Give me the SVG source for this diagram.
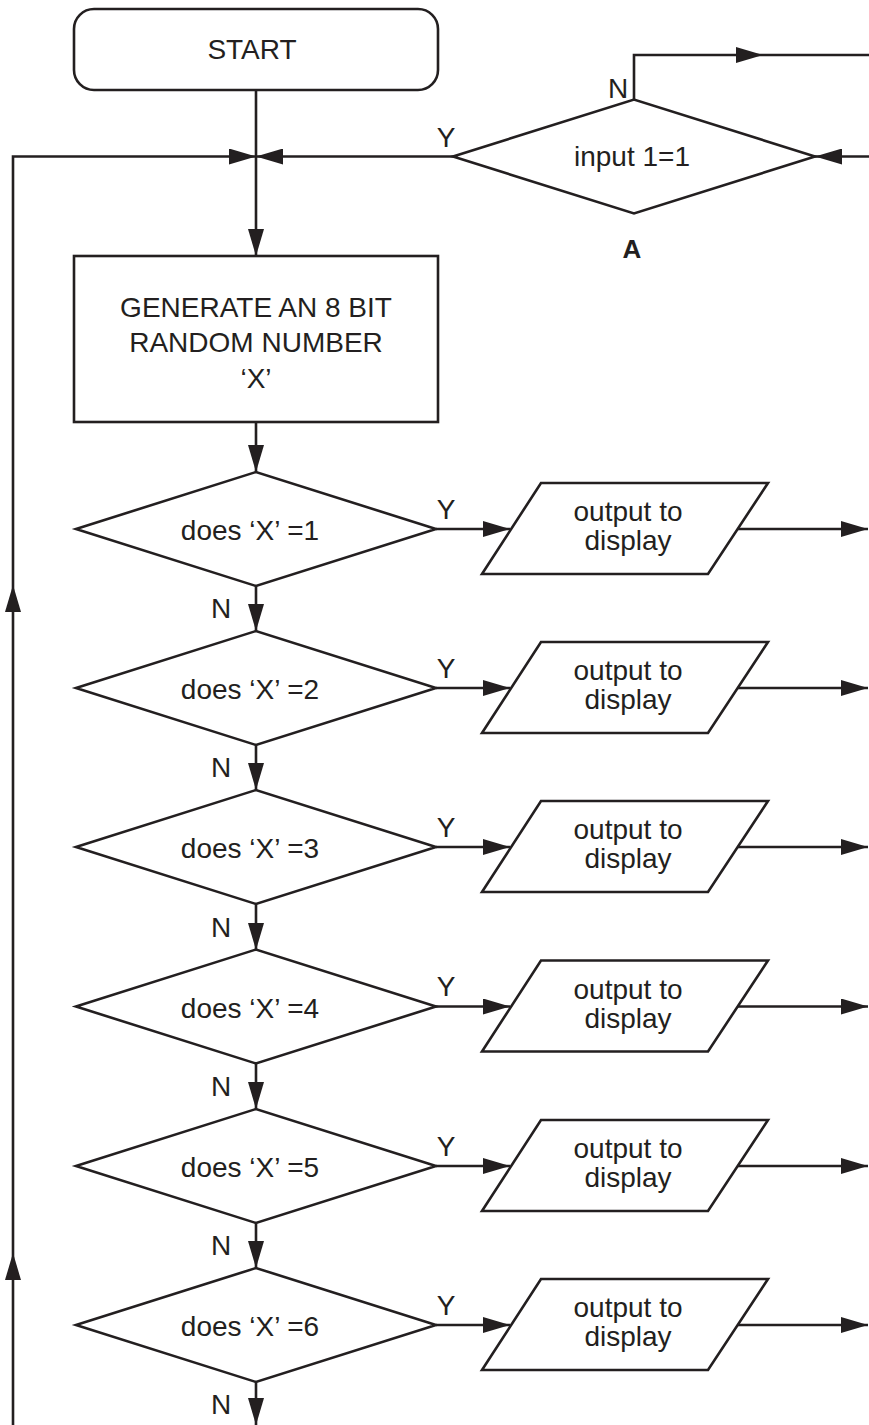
<svg xmlns="http://www.w3.org/2000/svg" width="869" height="1425" viewBox="0 0 869 1425">
<style>
.s{fill:#fff;stroke:#231f20;stroke-width:2.6}
.c{fill:none;stroke:#231f20;stroke-width:2.6}
text{font-family:"Liberation Sans",Arial,sans-serif;font-size:28px;fill:#231f20}
.m{text-anchor:middle}
.b{font-weight:bold;font-size:26px}
</style>
<defs>
<marker id="ah" viewBox="0 0 27 16" refX="27" refY="8" markerWidth="27" markerHeight="16" markerUnits="userSpaceOnUse" orient="auto">
<path d="M0,0 L27,8 L0,16 z" fill="#231f20"/>
</marker>
</defs>
<rect width="869" height="1425" fill="#fff"/>
<g id="connectors">
<path class="c" d="M256,90 V256" marker-end="url(#ah)"/>
<path class="c" d="M256,422 V472" marker-end="url(#ah)"/>
<path class="c" d="M453,156.5 H256" marker-end="url(#ah)"/>
<path class="c" d="M13,585 V156.5 H256" marker-end="url(#ah)"/>
<path class="c" d="M13,1253 V585" marker-end="url(#ah)"/>
<path class="c" d="M13,1425 V1253" marker-end="url(#ah)"/>
<path class="c" d="M634,99.5 V55 H763" marker-end="url(#ah)"/>
<path class="c" d="M763,55 H869"/>
<path class="c" d="M869,156.5 H815" marker-end="url(#ah)"/>
<path class="c" d="M256,586 V631" marker-end="url(#ah)"/>
<path class="c" d="M256,745 V790" marker-end="url(#ah)"/>
<path class="c" d="M256,904 V950" marker-end="url(#ah)"/>
<path class="c" d="M256,1063.5 V1109" marker-end="url(#ah)"/>
<path class="c" d="M256,1223 V1268" marker-end="url(#ah)"/>
<path class="c" d="M256,1382 V1425" marker-end="url(#ah)"/>
<path class="c" d="M436,529 H510" marker-end="url(#ah)"/>
<path class="c" d="M738,529 H868" marker-end="url(#ah)"/>
<path class="c" d="M436,688 H510" marker-end="url(#ah)"/>
<path class="c" d="M738,688 H868" marker-end="url(#ah)"/>
<path class="c" d="M436,847 H510" marker-end="url(#ah)"/>
<path class="c" d="M738,847 H868" marker-end="url(#ah)"/>
<path class="c" d="M436,1006.5 H510" marker-end="url(#ah)"/>
<path class="c" d="M738,1006.5 H868" marker-end="url(#ah)"/>
<path class="c" d="M436,1166 H510" marker-end="url(#ah)"/>
<path class="c" d="M738,1166 H868" marker-end="url(#ah)"/>
<path class="c" d="M436,1325 H510" marker-end="url(#ah)"/>
<path class="c" d="M738,1325 H868" marker-end="url(#ah)"/>
<text x="446" y="147" class="m">Y</text>
<text x="618" y="98" class="m">N</text>
<text x="446" y="519" class="m">Y</text>
<text x="221" y="618" class="m">N</text>
<text x="446" y="678" class="m">Y</text>
<text x="221" y="777" class="m">N</text>
<text x="446" y="837" class="m">Y</text>
<text x="221" y="937" class="m">N</text>
<text x="446" y="996" class="m">Y</text>
<text x="221" y="1096" class="m">N</text>
<text x="446" y="1156" class="m">Y</text>
<text x="221" y="1255" class="m">N</text>
<text x="446" y="1315" class="m">Y</text>
<text x="221" y="1414" class="m">N</text>
</g>
<g id="start">
<rect class="s" x="74" y="9" width="364" height="81" rx="20"/>
<text x="252" y="59" class="m">START</text>
</g>
<g id="decisionA">
<polygon class="s" points="453,156.5 634,99.5 815,156.5 634,213.5"/>
<text x="632" y="166" class="m">input 1=1</text>
<text x="632" y="258" class="m b">A</text>
</g>
<g id="generate">
<rect class="s" x="74" y="256" width="364" height="166"/>
<text x="256" y="317" class="m">GENERATE AN 8 BIT</text>
<text x="256" y="352" class="m">RANDOM NUMBER</text>
<text x="256" y="388" class="m">‘X’</text>
</g>
<g id="d1">
<polygon class="s" points="76,529 256,472 436,529 256,586"/>
<text x="250" y="540" class="m">does ‘X’ =1</text>
</g>
<g id="o1">
<polygon class="s" points="541,483 768,483 708,574 482,574"/>
<text x="628" y="521" class="m">output to</text>
<text x="628" y="550" class="m">display</text>
</g>
<g id="d2">
<polygon class="s" points="76,688 256,631 436,688 256,745"/>
<text x="250" y="699" class="m">does ‘X’ =2</text>
</g>
<g id="o2">
<polygon class="s" points="541,642 768,642 708,733 482,733"/>
<text x="628" y="680" class="m">output to</text>
<text x="628" y="709" class="m">display</text>
</g>
<g id="d3">
<polygon class="s" points="76,847 256,790 436,847 256,904"/>
<text x="250" y="858" class="m">does ‘X’ =3</text>
</g>
<g id="o3">
<polygon class="s" points="541,801 768,801 708,892 482,892"/>
<text x="628" y="839" class="m">output to</text>
<text x="628" y="868" class="m">display</text>
</g>
<g id="d4">
<polygon class="s" points="76,1006.5 256,949.5 436,1006.5 256,1063.5"/>
<text x="250" y="1017.5" class="m">does ‘X’ =4</text>
</g>
<g id="o4">
<polygon class="s" points="541,960.5 768,960.5 708,1051.5 482,1051.5"/>
<text x="628" y="998.5" class="m">output to</text>
<text x="628" y="1027.5" class="m">display</text>
</g>
<g id="d5">
<polygon class="s" points="76,1166 256,1109 436,1166 256,1223"/>
<text x="250" y="1177" class="m">does ‘X’ =5</text>
</g>
<g id="o5">
<polygon class="s" points="541,1120 768,1120 708,1211 482,1211"/>
<text x="628" y="1158" class="m">output to</text>
<text x="628" y="1187" class="m">display</text>
</g>
<g id="d6">
<polygon class="s" points="76,1325 256,1268 436,1325 256,1382"/>
<text x="250" y="1336" class="m">does ‘X’ =6</text>
</g>
<g id="o6">
<polygon class="s" points="541,1279 768,1279 708,1370 482,1370"/>
<text x="628" y="1317" class="m">output to</text>
<text x="628" y="1346" class="m">display</text>
</g>
</svg>
